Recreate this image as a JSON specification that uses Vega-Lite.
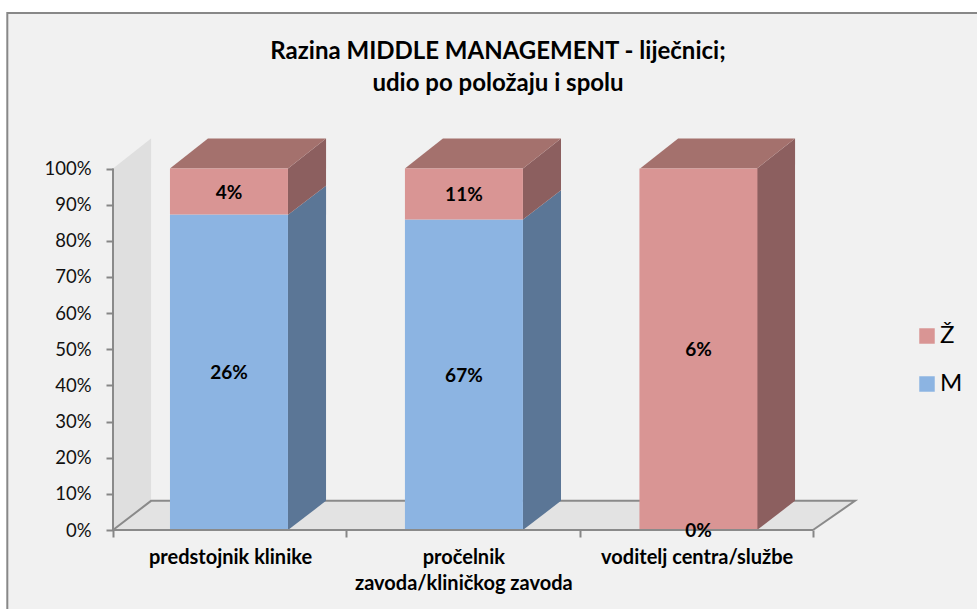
{
"$schema":"https://vega.github.io/schema/vega-lite/v6.json",
"width":742,"height":392,
"autosize":{"type":"none"},
"padding":{"left":113,"top":138,"right":122,"bottom":79},
"background":"#ffffff",
"config":{"view":{"stroke":null}},
"title":{"text":["Razina MIDDLE MANAGEMENT - liječnici;","udio po položaju i spolu"],"font":"Lato","fontSize":24,"fontWeight":"bold","color":"#000000","anchor":"middle","lineHeight":32,"dx":14,"offset":-84},
"datasets":{
"bars":[
{"position":"predstojnik klinike","pos":0.497,"series":"M","value":0.26},
{"position":"predstojnik klinike","pos":0.497,"series":"Ž","value":0.038},
{"position":"pročelnik zavoda/kliničkog zavoda","pos":1.504,"series":"M","value":0.67},
{"position":"pročelnik zavoda/kliničkog zavoda","pos":1.504,"series":"Ž","value":0.11},
{"position":"voditelj centra/službe","pos":2.509,"series":"M","value":0},
{"position":"voditelj centra/službe","pos":2.509,"series":"Ž","value":0.06}
],
"faces":[
{"bar":1,"face":"M","x":0.75,"lo":0,"hi":0.872},
{"bar":1,"face":"M","x":0.913,"lo":0.0806,"hi":0.9526},
{"bar":1,"face":"Ž","x":0.75,"lo":0.872,"hi":1},
{"bar":1,"face":"Ž","x":0.913,"lo":0.9526,"hi":1.083},
{"bar":2,"face":"M","x":1.757,"lo":0,"hi":0.859},
{"bar":2,"face":"M","x":1.92,"lo":0.0806,"hi":0.9396},
{"bar":2,"face":"Ž","x":1.757,"lo":0.859,"hi":1},
{"bar":2,"face":"Ž","x":1.92,"lo":0.9396,"hi":1.083},
{"bar":3,"face":"Ž","x":2.76,"lo":0,"hi":1},
{"bar":3,"face":"Ž","x":2.923,"lo":0.0806,"hi":1.083},
{"bar":1,"face":"top","x":0.244,"lo":1,"hi":1},
{"bar":1,"face":"top","x":0.407,"lo":1,"hi":1.083},
{"bar":1,"face":"top","x":0.75,"lo":1,"hi":1.083},
{"bar":1,"face":"top","x":0.913,"lo":1.083,"hi":1.083},
{"bar":2,"face":"top","x":1.251,"lo":1,"hi":1},
{"bar":2,"face":"top","x":1.414,"lo":1,"hi":1.083},
{"bar":2,"face":"top","x":1.757,"lo":1,"hi":1.083},
{"bar":2,"face":"top","x":1.92,"lo":1.083,"hi":1.083},
{"bar":3,"face":"top","x":2.259,"lo":1,"hi":1},
{"bar":3,"face":"top","x":2.422,"lo":1,"hi":1.083},
{"bar":3,"face":"top","x":2.76,"lo":1,"hi":1.083},
{"bar":3,"face":"top","x":2.923,"lo":1.083,"hi":1.083},
{"bar":0,"face":"wall","x":0,"lo":0,"hi":1},
{"bar":0,"face":"wall","x":0.163,"lo":0.0806,"hi":1.083},
{"bar":0,"face":"floor","x":0,"lo":0,"hi":0},
{"bar":0,"face":"floor","x":0.163,"lo":0,"hi":0.0806},
{"bar":0,"face":"floor","x":3,"lo":0,"hi":0.0806},
{"bar":0,"face":"floor","x":3.18,"lo":0.0806,"hi":0.0806}
],
"edges":[
{"edge":"back","step":1,"x":0,"y":0},
{"edge":"back","step":2,"x":0.163,"y":0.0806},
{"edge":"back","step":3,"x":3.18,"y":0.0806},
{"edge":"back","step":4,"x":3,"y":0},
{"edge":"front","step":1,"x":0,"y":1},
{"edge":"front","step":2,"x":0,"y":0},
{"edge":"front","step":3,"x":3,"y":0}
]
},
"data":{"name":"bars"},
"layer":[
{"data":{"values":[{"x0":-0.453,"x1":3.75,"y0":-0.25,"y1":1.43}]},
 "mark":{"type":"rect","fill":"#f1f1f1","stroke":"#888888","strokeWidth":2},
 "encoding":{
  "x":{"field":"x0","type":"quantitative","scale":{"domain":[0,3.18],"nice":false,"zero":false,"padding":0},
   "axis":{"title":null,"grid":false,"domain":false,"values":[0,1,2,3],"tickColor":"#868686","tickWidth":2,"tickSize":7,"labelOffset":117,"labelBound":false,"labelFlush":false,"labelOverlap":false,"labelLimit":400,"labelFont":"Lato","labelFontSize":20,"labelFontWeight":"bold","labelColor":"#000000","labelPadding":20,"labelLineHeight":26,"labelBaseline":"middle","zindex":2,
    "labelExpr":"datum.value==0?'predstojnik klinike':datum.value==1?['pročelnik','zavoda/kliničkog zavoda']:datum.value==2?'voditelj centra/službe':''"}},
  "x2":{"field":"x1"},
  "y":{"field":"y0","type":"quantitative","scale":{"domain":[0,1.0844],"nice":false,"zero":false},
   "axis":{"title":null,"grid":false,"domain":false,"values":[0,0.1,0.2,0.3,0.4,0.5,0.6,0.7,0.8,0.9,1],"tickCount":11,"format":".0%","tickColor":"#868686","tickWidth":2,"tickSize":7,"labelOverlap":false,"labelBound":false,"labelFont":"Lato","labelFontSize":18.5,"labelColor":"#111111","labelPadding":15,"zindex":2}},
  "y2":{"field":"y1"}
 }},
{"data":{"name":"faces"},"transform":[{"filter":"datum.face=='wall'"}],
 "mark":{"type":"area","color":"#dfdfdf"},
 "encoding":{"x":{"field":"x","type":"quantitative"},"y":{"field":"lo","type":"quantitative"},"y2":{"field":"hi"}}},
{"data":{"name":"faces"},"transform":[{"filter":"datum.face=='floor'"}],
 "mark":{"type":"area","color":"#e3e3e3"},
 "encoding":{"x":{"field":"x","type":"quantitative"},"y":{"field":"lo","type":"quantitative"},"y2":{"field":"hi"}}},
{"data":{"name":"edges"},"transform":[{"filter":"datum.edge=='back'"}],
 "mark":{"type":"line","color":"#8a8a8a","strokeWidth":2},
 "encoding":{"x":{"field":"x","type":"quantitative"},"y":{"field":"y","type":"quantitative"},"order":{"field":"step"}}},
{"data":{"name":"faces"},"transform":[{"filter":"datum.face=='M'"}],
 "mark":{"type":"area","color":"#5b7696"},
 "encoding":{"x":{"field":"x","type":"quantitative"},"y":{"field":"lo","type":"quantitative"},"y2":{"field":"hi"},"detail":{"field":"bar"}}},
{"data":{"name":"faces"},"transform":[{"filter":"datum.face=='Ž'"}],
 "mark":{"type":"area","color":"#8c5f5f"},
 "encoding":{"x":{"field":"x","type":"quantitative"},"y":{"field":"lo","type":"quantitative"},"y2":{"field":"hi"},"detail":{"field":"bar"}}},
{"data":{"name":"faces"},"transform":[{"filter":"datum.face=='top'"}],
 "mark":{"type":"area","color":"#a4716d"},
 "encoding":{"x":{"field":"x","type":"quantitative"},"y":{"field":"lo","type":"quantitative"},"y2":{"field":"hi"},"detail":{"field":"bar"}}},
{"transform":[{"stack":"value","groupby":["position"],"sort":[{"field":"series","order":"ascending"}],"offset":"normalize","as":["s0","s1"]}],
 "mark":{"type":"bar","orient":"vertical","width":118},
 "encoding":{
  "x":{"field":"pos","type":"quantitative"},
  "y":{"field":"s0","type":"quantitative"},
  "y2":{"field":"s1"},
  "color":{"field":"series","type":"nominal","scale":{"domain":["Ž","M"],"range":["#d99594","#8cb4e2"]},
   "legend":{"title":null,"orient":"none","legendX":802,"legendY":186,"symbolType":"square","symbolSize":240,"symbolStrokeWidth":0,"symbolOpacity":1,"labelFont":"Lato","labelFontSize":24,"labelColor":"#000000","rowPadding":24,"labelOffset":1}}
 }},
{"data":{"name":"edges"},"transform":[{"filter":"datum.edge=='front'"}],
 "mark":{"type":"line","color":"#8a8a8a","strokeWidth":2},
 "encoding":{"x":{"field":"x","type":"quantitative"},"y":{"field":"y","type":"quantitative"},"order":{"field":"step"}}},
{"transform":[{"stack":"value","groupby":["position"],"sort":[{"field":"series","order":"ascending"}],"offset":"normalize","as":["s0","s1"]},{"calculate":"(datum.s0+datum.s1)/2","as":"mid"}],
 "mark":{"type":"text","font":"Lato","fontSize":19,"fontWeight":"bold","color":"#000000","dy":1},
 "encoding":{
  "x":{"field":"pos","type":"quantitative"},
  "y":{"field":"mid","type":"quantitative"},
  "text":{"field":"value","type":"quantitative","format":".0%"}
 }}
]
}
